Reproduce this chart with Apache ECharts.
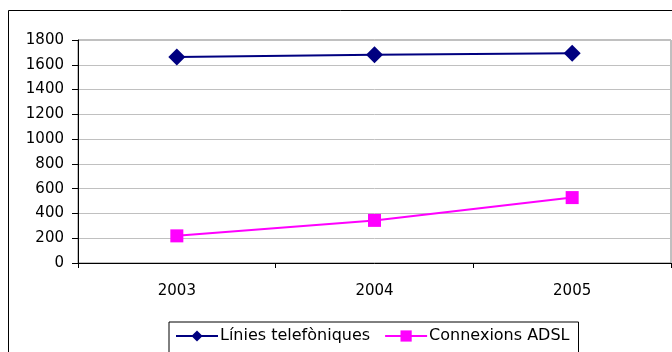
<!DOCTYPE html>
<html><head><meta charset="utf-8">
<script src="https://cdn.jsdelivr.net/npm/echarts@6/dist/echarts.min.js"></script>
<style>html,body{margin:0;padding:0;background:#fff}#c{width:672px;height:352px}</style>
</head><body><div id="c"></div>
<script>
var categories = ['2003', '2004', '2005'];
var liniesTelefoniques = [1662, 1681, 1694];
var connexionsADSL = [219, 344, 528];
var seriesNames = ['Línies telefòniques', 'Connexions ADSL'];
var yTicks = {min: 0, max: 1800, interval: 200};

var FONT = '"DejaVu Sans", sans-serif';
var chart = echarts.init(document.getElementById('c'), null, {renderer: 'canvas'});
chart.setOption({
  animation: false,
  backgroundColor: '#fff',
  graphic: [{
    type: 'rect', z: 100, silent: true,
    shape: {x: 8.5, y: 10.5, width: 700, height: 400},
    style: {fill: 'none', stroke: '#000', lineWidth: 1}
  }],
  grid: {left: 78, right: 1, top: 40, bottom: 89, show: true, borderColor: '#808080', borderWidth: 1},
  legend: {
    left: 169, top: 322,
    itemWidth: 42, itemHeight: 14, itemGap: 14,
    borderColor: '#000', borderWidth: 1, padding: [6, 9, 10, 6],
    lineStyle: {width: 2},
    textStyle: {fontFamily: FONT, fontSize: 16, color: '#000', padding: [0, 0, 0, -3]},
    data: seriesNames
  },
  xAxis: {
    type: 'category', data: categories, boundaryGap: true,
    axisLine: {lineStyle: {color: '#000', width: 1}},
    axisTick: {show: true, length: 5, lineStyle: {color: '#000'}},
    axisLabel: {fontFamily: FONT, fontSize: 15, color: '#000', margin: 21},
    splitLine: {show: false}
  },
  yAxis: {
    type: 'value', min: yTicks.min, max: yTicks.max, interval: yTicks.interval,
    axisLine: {show: true, lineStyle: {color: '#000', width: 1}},
    axisTick: {show: true, length: 6, lineStyle: {color: '#000'}},
    axisLabel: {fontFamily: FONT, fontSize: 15, color: '#000', margin: 14,
      formatter: function (v) { return String(v); }},
    splitLine: {show: true, lineStyle: {color: '#c0c0c0', width: 1}}
  },
  series: [{
    name: seriesNames[0], type: 'line', data: liniesTelefoniques,
    symbol: 'diamond', symbolSize: 17, showAllSymbol: true,
    lineStyle: {color: '#000080', width: 2},
    itemStyle: {color: '#000080'}
  }, {
    name: seriesNames[1], type: 'line', data: connexionsADSL,
    symbol: 'rect', symbolSize: 13, showAllSymbol: true,
    lineStyle: {color: '#ff00ff', width: 2},
    itemStyle: {color: '#ff00ff'}
  }]
});
</script></body></html>
